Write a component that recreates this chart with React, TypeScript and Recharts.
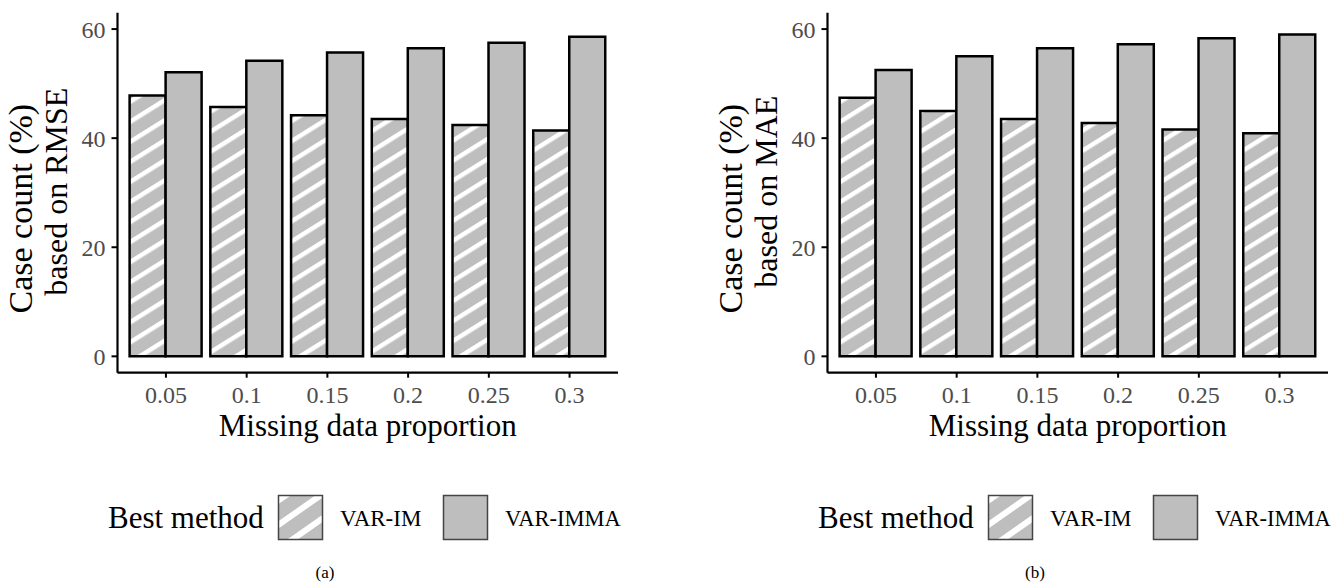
import React from 'react';
import { BarChart, Bar, XAxis, YAxis } from 'recharts';

const categories = ['0.05', '0.1', '0.15', '0.2', '0.25', '0.3'];
const rmseVarIm = [47.8, 45.7, 44.2, 43.5, 42.4, 41.4];
const rmseVarImma = [52.1, 54.2, 55.7, 56.5, 57.5, 58.6];
const maeVarIm = [47.4, 45.0, 43.5, 42.8, 41.6, 40.9];
const maeVarImma = [52.5, 55.0, 56.5, 57.2, 58.3, 59.0];
const yTicks = [0, 20, 40, 60];
const seriesNames = ['VAR-IM', 'VAR-IMMA'];

const FONT = '"Liberation Serif", "Times New Roman", serif';
const GREY = '#bebebe';

function buildData(a: number[], b: number[]) {
  return categories.map((c, i) => ({ p: c, varIm: a[i], varImma: b[i] }));
}

type PanelProps = {
  left: number;
  width: number;
  varIm: number[];
  varImma: number[];
  metric: string;
  caption: string;
  id: string;
};

function Panel({ left, width, varIm, varImma, metric, caption, id }: PanelProps) {
  const data = buildData(varIm, varImma);
  const plotTop = 12.7;
  const plotBottom = 372.7;
  const yAxisWidth = 117.5;
  const plotRight = yAxisWidth + 500.5;
  const xAxisHeight = 60;
  const H = 582;
  return (
    <div style={{ position: 'absolute', left, top: 0, width, height: H }}>
      <BarChart
        width={width}
        height={H}
        data={data}
        margin={{ top: plotTop, right: width - plotRight, bottom: H - plotBottom - xAxisHeight, left: 0 }}
        barCategoryGap="5%"
        barGap={0}
      >
        <defs>
          <pattern id={`hatch-${id}`} patternUnits="userSpaceOnUse" width="17" height="17" patternTransform="rotate(-32)">
            <rect width="17" height="17" fill={GREY} />
            <rect y="0" width="17" height="4.5" fill="#ffffff" />
          </pattern>
        </defs>
        <XAxis
          dataKey="p"
          type="category"
          height={xAxisHeight}
          padding={{ left: 8.07, right: 8.07 }}
          axisLine={{ stroke: '#000', strokeWidth: 2.2 }}
          tickLine={{ stroke: '#000', strokeWidth: 2 }}
          tickSize={5}
          tickMargin={8}
          tick={{ fontFamily: FONT, fontSize: 24, fill: '#4d4d4d' }}
          interval={0}
          label={(props: any) => {
            const vb = props.viewBox || {};
            return (
              <text
                x={vb.x + vb.width / 2}
                y={vb.y + 63}
                textAnchor="middle"
                fontFamily={FONT}
                fontSize={31}
                fill="#000"
              >
                Missing data proportion
              </text>
            );
          }}
        />
        <YAxis
          type="number"
          domain={[-3, 63]}
          ticks={yTicks}
          width={yAxisWidth}
          axisLine={{ stroke: '#000', strokeWidth: 2.2 }}
          tickLine={{ stroke: '#000', strokeWidth: 2 }}
          tickSize={6}
          tickMargin={6}
          tick={{ fontFamily: FONT, fontSize: 24, fill: '#4d4d4d' }}
          allowDataOverflow
          label={(props: any) => {
            const vb = props.viewBox || {};
            const cy = vb.y + vb.height / 2;
            return (
              <g fontFamily={FONT} fill="#000">
                <text x={32} y={cy + 16} fontSize={34} textAnchor="middle" transform={`rotate(-90 32 ${cy + 16})`}>
                  Case count (%)
                </text>
                <text x={67} y={cy - 1} fontSize={32} textAnchor="middle" transform={`rotate(-90 67 ${cy - 1})`}>
                  {`based on ${metric}`}
                </text>
              </g>
            );
          }}
        />
        <Bar dataKey="varIm" name={seriesNames[0]} fill={`url(#hatch-${id})`} stroke="#000" strokeWidth={2.5} isAnimationActive={false} />
        <Bar dataKey="varImma" name={seriesNames[1]} fill={GREY} stroke="#000" strokeWidth={2.5} isAnimationActive={false} />
      </BarChart>
      <svg
        width={width}
        height={110}
        style={{ position: 'absolute', left: 0, top: 472 }}
        fontFamily={FONT}
      >
        <defs>
          <pattern id={`key-${id}`} patternUnits="userSpaceOnUse" width="20" height="20" patternTransform="rotate(-35)">
            <rect width="20" height="20" fill={GREY} />
            <rect y="0" width="20" height="6" fill="#ffffff" />
          </pattern>
        </defs>
        <text x={108} y={56} fontSize={31} fill="#000">Best method</text>
        <rect x={278.5} y={23.5} width={44} height={44} fill={`url(#key-${id})`} stroke="#444" strokeWidth={1.5} />
        <text x={340} y={54} fontSize={23} fill="#000">{seriesNames[0]}</text>
        <rect x={443.5} y={23.5} width={44} height={44} fill={GREY} stroke="#444" strokeWidth={1.5} />
        <text x={505} y={54} fontSize={22.5} fill="#000">{seriesNames[1]}</text>
        <text x={325} y={106} fontSize={17} textAnchor="middle" fill="#000">{caption}</text>
      </svg>
    </div>
  );
}

export default function App() {
  return (
    <div style={{ position: 'absolute', left: 0, top: 0, width: 1340, height: 582, background: '#fff', overflow: 'hidden' }}>
      <Panel left={0} width={670} varIm={rmseVarIm} varImma={rmseVarImma} metric="RMSE" caption="(a)" id="a" />
      <Panel left={710} width={630} varIm={maeVarIm} varImma={maeVarImma} metric="MAE" caption="(b)" id="b" />
    </div>
  );
}
